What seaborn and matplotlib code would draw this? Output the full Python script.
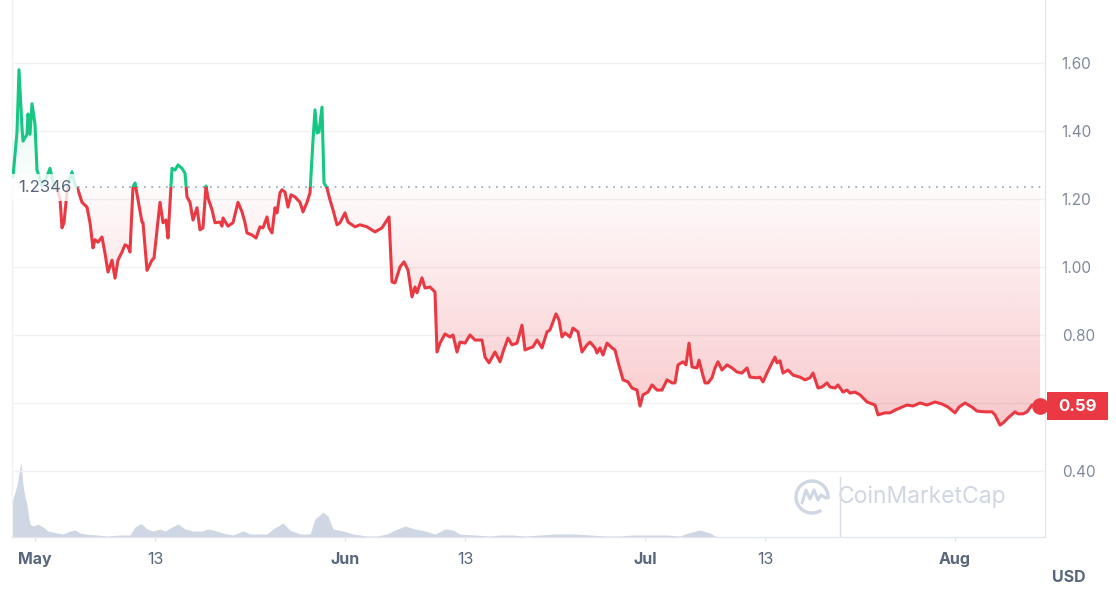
import numpy as np
import pandas as pd
import matplotlib
matplotlib.use("Agg")
import matplotlib.pyplot as plt
import matplotlib.transforms as mtransforms
from matplotlib.patches import Rectangle, Arc
from matplotlib.path import Path
from matplotlib.colors import to_rgb
import seaborn as sns

# ---------------- data (days since May 1) ----------------
days = [-2.2, -1.8, -1.6, -1.3, -1.2, -0.8, -0.7, -0.5, -0.3, 0.0, 0.2, 0.7, 1.1, 1.5, 1.8,
        2.2, 2.5, 2.7, 2.9, 3.2, 3.5, 3.7, 4.0, 4.3, 4.7, 5.2, 5.5, 5.8, 6.0, 6.3, 6.7, 7.0,
        7.3, 7.7, 8.0, 8.3, 8.7, 9.0, 9.3, 9.5, 9.8, 10.0, 10.3, 10.7, 10.8, 11.2, 11.7, 11.9,
        12.2, 12.5, 12.8, 13.1, 13.3, 13.7, 14.0, 14.3, 14.7, 15.0, 15.2, 15.5, 15.8, 16.2,
        16.5, 16.8, 17.1, 17.3, 17.7, 18.0, 18.5, 18.7, 18.8, 19.3, 19.8, 20.3, 20.7, 21.0,
        21.2, 21.7, 22.1, 22.5, 22.8, 23.2, 23.4, 23.7, 24.0, 24.2, 24.5, 24.7, 25.0, 25.3,
        25.6, 26.0, 26.5, 26.8, 27.2, 27.5, 27.8, 28.0, 28.2, 28.4, 28.7, 28.9, 29.2, 29.5,
        29.8, 30.2, 30.5, 31.0, 31.3, 32.0, 32.5, 33.2, 34.0, 34.7, 35.2, 35.4, 35.7, 36.0,
        36.5, 36.9, 37.3, 37.7, 38.0, 38.2, 38.7, 39.0, 39.5, 40.0, 40.2, 40.5, 41.0, 41.5,
        41.8, 42.2, 42.5, 43.0, 43.5, 44.0, 44.7, 45.0, 45.4, 46.0, 46.5, 46.8, 47.3, 47.7,
        48.2, 48.7, 49.0, 49.5, 49.8, 50.2, 50.7, 51.2, 51.5, 52.1, 52.4, 52.7, 53.0, 53.5,
        53.8, 54.3, 54.7, 55.2, 55.5, 56.0, 56.2, 56.5, 56.8, 57.2, 57.7, 58.0, 58.3, 58.8,
        59.3, 59.7, 60.2, 60.5, 60.8, 61.3, 61.7, 62.2, 62.7, 63.2, 63.7, 64.0, 64.3, 64.8,
        65.1, 65.4, 65.7, 66.2, 66.4, 66.7, 67.0, 67.3, 67.7, 68.0, 68.3, 68.7, 69.2, 69.7,
        70.2, 70.7, 71.2, 71.5, 72.2, 72.5, 72.8, 73.2, 73.7, 74.0, 74.2, 74.5, 74.8, 75.3,
        75.8, 76.5, 77.0, 77.5, 77.8, 78.3, 78.7, 79.2, 79.5, 80.0, 80.3, 80.8, 81.2, 81.5,
        82.0, 82.5, 83.2, 84.0, 84.3, 85.0, 85.5, 86.0, 86.7, 87.2, 87.8, 88.5, 89.2, 90.0,
        90.7, 91.3, 92.0, 92.4, 93.0, 93.7, 94.2, 95.0, 95.7, 96.0, 96.5, 96.8, 97.3, 98.0,
        98.3, 98.8, 99.2, 99.7, 100.5]
prices = [1.265, 1.397, 1.58, 1.41, 1.37, 1.39, 1.45, 1.39, 1.48, 1.42, 1.285, 1.24, 1.26, 1.29, 1.25,
          1.23, 1.20, 1.115, 1.13, 1.22, 1.26, 1.28, 1.24, 1.227, 1.19, 1.176, 1.13, 1.056, 1.08, 1.073, 1.088, 1.04,
          0.985, 1.02, 0.967, 1.02, 1.044, 1.065, 1.06, 1.044, 1.235, 1.247, 1.197, 1.132, 1.13, 0.99, 1.02, 1.026,
          1.109, 1.19, 1.13, 1.138, 1.085, 1.29, 1.285, 1.30, 1.29, 1.276, 1.206, 1.19, 1.138, 1.174,
          1.109, 1.115, 1.238, 1.203, 1.168, 1.13, 1.132, 1.12, 1.144, 1.12, 1.13, 1.19, 1.162, 1.13,
          1.10, 1.094, 1.085, 1.118, 1.115, 1.147, 1.115, 1.10, 1.174, 1.159, 1.218, 1.227, 1.22, 1.176,
          1.212, 1.206, 1.19, 1.162, 1.19, 1.218, 1.374, 1.462, 1.394, 1.397, 1.47, 1.247, 1.232, 1.197,
          1.168, 1.124, 1.13, 1.159, 1.132, 1.118, 1.124, 1.118, 1.103, 1.115, 1.138, 1.147, 0.956, 0.953,
          1.00, 1.015, 0.991, 0.912, 0.941, 0.924, 0.968, 0.938, 0.941, 0.926, 0.75, 0.776, 0.803, 0.794,
          0.80, 0.75, 0.779, 0.776, 0.80, 0.785, 0.785, 0.735, 0.718, 0.75, 0.721, 0.75, 0.791, 0.771,
          0.776, 0.829, 0.756, 0.762, 0.765, 0.785, 0.762, 0.809, 0.815, 0.862, 0.844, 0.794, 0.806, 0.794,
          0.82, 0.809, 0.75, 0.771, 0.779, 0.762, 0.747, 0.762, 0.741, 0.776, 0.762, 0.756, 0.721, 0.668,
          0.662, 0.644, 0.638, 0.591, 0.624, 0.632, 0.653, 0.638, 0.638, 0.668, 0.659, 0.659, 0.712, 0.721,
          0.712, 0.776, 0.706, 0.703, 0.726, 0.691, 0.659, 0.659, 0.674, 0.703, 0.721, 0.697, 0.712, 0.703,
          0.691, 0.688, 0.703, 0.676, 0.674, 0.676, 0.662, 0.688, 0.718, 0.735, 0.718, 0.724, 0.688, 0.697,
          0.682, 0.676, 0.668, 0.674, 0.688, 0.644, 0.647, 0.659, 0.647, 0.644, 0.653, 0.632, 0.638, 0.629,
          0.632, 0.624, 0.603, 0.594, 0.565, 0.571, 0.571, 0.579, 0.588, 0.594, 0.591, 0.60, 0.594, 0.603,
          0.597, 0.588, 0.571, 0.588, 0.60, 0.588, 0.576, 0.574, 0.574, 0.565, 0.535, 0.541, 0.556, 0.574,
          0.568, 0.568, 0.574, 0.594, 0.591]

vol_days = [-2.3, -2.2, -1.8, -1.6, -1.4, -1.2, -1.0, -0.8, -0.6, -0.5, -0.2, 0.1, 0.3, 0.8, 1.3,
            2.2, 2.8, 3.5, 4.0, 4.5, 5.0, 6.2, 7.2, 8.5, 9.5, 10.0, 10.5, 10.7, 11.2, 11.8, 12.5,
            13.0, 13.7, 14.3, 15.0, 15.8, 16.8, 17.2, 17.8, 18.8, 19.8, 20.8, 21.5, 23.2, 23.8,
            24.8, 25.5, 26.5, 27.5, 28.0, 28.8, 29.3, 29.8, 30.8, 31.8, 33.2, 34.2, 35.2, 36.0,
            37.0, 38.0, 39.0, 40.0, 41.0, 41.8, 42.5, 44.0, 45.5, 46.5, 47.7, 49.0, 50.5, 52.0,
            54.0, 55.5, 57.0, 58.5, 59.8, 61.5, 63.2, 64.5, 65.3, 66.5, 67.5, 68.0, 68.5]
volumes = [36, 38, 52, 64, 75, 52, 40, 32, 18, 13, 11, 12, 13, 10, 6,
           4, 3, 6, 7, 4, 3, 2, 1, 2, 2, 10, 13, 13, 8, 6, 8,
           6, 10, 13, 8, 6, 6, 8, 7, 4, 2, 6, 3, 3, 8,
           14, 7, 3, 3, 18, 25, 21, 8, 6, 3, 1, 1, 3, 7,
           11, 8, 6, 3, 8, 7, 3, 2, 1, 2, 2, 1, 2, 3,
           3, 2, 1, 1, 2, 2, 2, 1, 4, 7, 4, 1, 0]

base_price = 1.2346
base_label = "1.2346"
last_label = "0.59"
y_ticks = [0.40, 0.60, 0.80, 1.00, 1.20, 1.40, 1.60]
y_tick_labels = ["0.40", "", "0.80", "1.00", "1.20", "1.40", "1.60"]  # 0.60 hidden behind price tag
x_tick_days = [0, 12, 31, 43, 61, 73, 92]
x_tick_labels = ["May", "13", "Jun", "13", "Jul", "13", "Aug"]
month_labels = {"May", "Jun", "Jul", "Aug"}

# ---------------- style ----------------
sns.set_theme(style="white")
plt.rcParams['font.family'] = ['Inter', 'DejaVu Sans']

GREEN = '#16c784'
RED = '#ea3943'
GRID = '#eff1f4'
AXLINE = '#e3e6ec'
LABEL = '#58667e'
YLABEL = '#808a9d'
WATER = '#cfd6e4'

W, H = 1116, 596
ax_l, ax_r, ax_b, ax_t = 12, 1045, 537, 0
fig = plt.figure(figsize=(W / 100, H / 100), dpi=100)
ax = fig.add_axes([ax_l / W, (H - ax_b) / H, (ax_r - ax_l) / W, (ax_b - ax_t) / H])
ax2 = ax.twinx()

xmin, xmax = -2.3, 101.0
ymin, ymax = 0.2059, 1.785

# ---------------- volume ----------------
ax2.fill_between(vol_days, volumes, 0, color=WATER, lw=0)
ax2.set_ylim(0, 537)
ax2.set_yticks([])
for s in ax2.spines.values():
    s.set_visible(False)
ax.set_zorder(ax2.get_zorder() + 1)
ax.patch.set_visible(False)

# ---------------- price line ----------------
df = pd.DataFrame({"day": days, "price": prices})
sns.lineplot(data=df, x="day", y="price", ax=ax, color=RED, lw=2.2,
             estimator=None, sort=False, zorder=4)
line_red = ax.lines[-1]
sns.lineplot(data=df, x="day", y="price", ax=ax, color=GREEN, lw=2.2,
             estimator=None, sort=False, zorder=4)
line_green = ax.lines[-1]
line_red.set_solid_joinstyle('round')
line_green.set_solid_joinstyle('round')
line_red.set_clip_path(Rectangle((xmin, ymin - 1), xmax - xmin, base_price - ymin + 1,
                                 transform=ax.transData))
line_green.set_clip_path(Rectangle((xmin, base_price), xmax - xmin, ymax - base_price + 1,
                                   transform=ax.transData))

p = np.array(prices)
# red gradient fill (below baseline)
n = 300
ys = np.linspace(ymin, base_price, n)
a_red = np.clip(0.02 + 0.25 * (base_price - ys) / (base_price - 0.55), 0, 0.3)
rgba = np.zeros((n, 1, 4))
rgba[:, 0, :3] = to_rgb(RED)
rgba[:, 0, 3] = a_red
im_r = ax.imshow(rgba, extent=[xmin, xmax, ymin, base_price], origin='lower',
                 aspect='auto', zorder=1, interpolation='bilinear')
poly_r = ax.fill_between(days, np.minimum(p, base_price), base_price,
                         facecolor='none', edgecolor='none')
im_r.set_clip_path(Path.make_compound_path(*poly_r.get_paths()), transform=ax.transData)

# green gradient fill (above baseline)
ys2 = np.linspace(base_price, ymax, n)
a_green = np.clip(0.01 + 0.16 * (ys2 - base_price) / (1.58 - base_price), 0, 0.2)
rgba2 = np.zeros((n, 1, 4))
rgba2[:, 0, :3] = to_rgb(GREEN)
rgba2[:, 0, 3] = a_green
im_g = ax.imshow(rgba2, extent=[xmin, xmax, base_price, ymax], origin='lower',
                 aspect='auto', zorder=1, interpolation='bilinear')
poly_g = ax.fill_between(days, base_price, np.maximum(p, base_price),
                         facecolor='none', edgecolor='none')
im_g.set_clip_path(Path.make_compound_path(*poly_g.get_paths()), transform=ax.transData)

# baseline
ax.axhline(base_price, color='#9aa3b3', lw=1.2, ls=(0, (1, 3.4)), zorder=2)
ax.text(0.006, base_price, base_label, transform=mtransforms.blended_transform_factory(ax.transAxes, ax.transData),
        ha='left', va='center', fontsize=12, color=LABEL, zorder=6,
        bbox=dict(boxstyle='square,pad=0.35', facecolor='white', edgecolor='none', alpha=0.8))

# last point
ax.plot([days[-1]], [prices[-1]], 'o', color=RED, ms=11, zorder=6, clip_on=False)
trans = mtransforms.blended_transform_factory(ax.transAxes, ax.transData)
ax.add_patch(Rectangle((1.0019, prices[-1] - 0.0412), 0.059, 0.0824, transform=trans,
                       facecolor=RED, edgecolor='none', clip_on=False, zorder=7))
ax.text(1.0019 + 0.0295, prices[-1], last_label, transform=trans, ha='center', va='center',
        fontsize=12, color='white', fontweight='bold', clip_on=False, zorder=8)

# ---------------- axes ----------------
ax.set_xlim(xmin, xmax)
ax.set_ylim(ymin, ymax)
ax2.set_xlim(xmin, xmax)
ax.set_xlabel('')
ax.set_ylabel('')

ax.set_yticks(y_ticks)
ax.set_yticklabels(y_tick_labels)
ax.yaxis.set_ticks_position('right')
ax.tick_params(axis='y', length=0, pad=12, labelsize=11, labelcolor=YLABEL,
               right=True, left=False, labelright=True, labelleft=False)
ax.grid(axis='y', color=GRID, lw=1)
ax.grid(axis='x', visible=False)

ax.set_xticks(x_tick_days)
ax.set_xticklabels(x_tick_labels)
ax.tick_params(axis='x', length=3, width=1, color=AXLINE, pad=8, labelsize=11.5,
               labelcolor=LABEL, bottom=True)
for t in ax.get_xticklabels():
    if t.get_text() in month_labels:
        t.set_fontweight('bold')

ax.spines['top'].set_visible(False)
ax.spines['left'].set_color('#eef0f4')
ax.spines['right'].set_color(AXLINE)
ax.spines['bottom'].set_color(AXLINE)
for s in ['left', 'right', 'bottom']:
    ax.spines[s].set_linewidth(1)

fig.text(1052 / W, 1 - 578 / H, "USD", fontsize=11.5, fontweight='bold', color=LABEL,
         ha='left', va='center')

# ---------------- watermark ----------------
cx, cy = (812 - ax_l) / (ax_r - ax_l), (ax_b - 497) / (ax_b - ax_t)
pw, ph = 1 / (ax_r - ax_l), 1 / (ax_b - ax_t)
ax.add_patch(Arc((cx, cy), 32 * pw, 32 * ph, theta1=345, theta2=290, transform=ax.transAxes,
                 color=WATER, lw=2.4, zorder=0))
wx = [-10, -6, -2, 2, 6, 9, 14]
wy = [-6, 7, -2, 7, -3, 2, -1]
ax.plot([cx + v * pw for v in wx], [cy + v * ph for v in wy], transform=ax.transAxes,
        color=WATER, lw=2.2, solid_joinstyle='round', solid_capstyle='round', zorder=0)
ax.text((838 - ax_l) / (ax_r - ax_l), cy, "CoinMarketCap", transform=ax.transAxes,
        ha='left', va='center', fontsize=16.5, color=WATER, zorder=0)
ax.axvline(80.5, 0, 60 / 537, color='#d8dde6', lw=1, zorder=0)

fig.savefig("out.png", dpi=100, facecolor='white')
